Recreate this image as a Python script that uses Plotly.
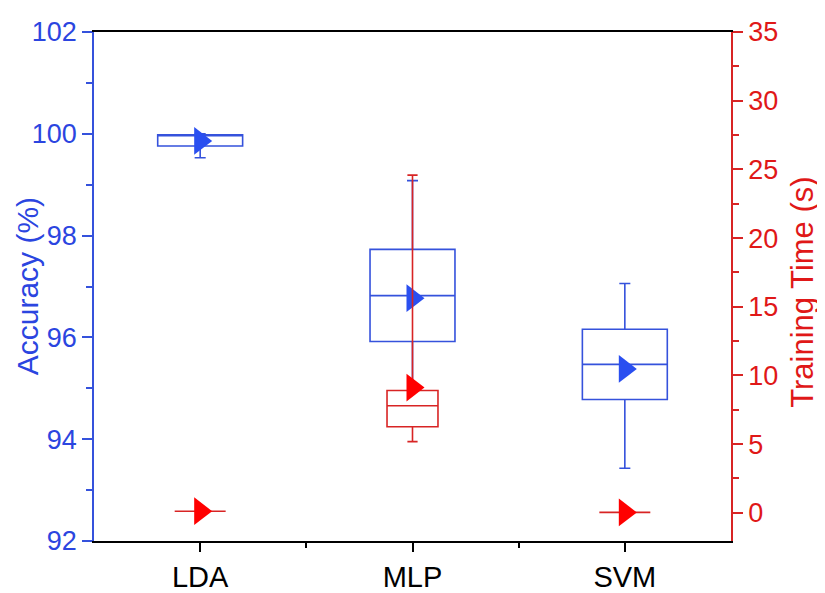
import plotly.graph_objects as go

categories = ["LDA", "MLP", "SVM"]
cat_pos = [1, 2, 3]

# Accuracy (%) box statistics
acc_lower = [99.53, 95.00, 93.43]
acc_q1 = [99.76, 95.92, 94.78]
acc_median = [99.98, 96.82, 95.47]
acc_q3 = [99.98, 97.73, 96.16]
acc_upper = [100.00, 99.08, 97.06]
acc_mean = [99.86, 96.77, 95.38]

# Training time (s) box statistics
tt_lower = [0.12, 5.18, 0.03]
tt_q1 = [0.12, 6.27, 0.03]
tt_median = [0.12, 7.80, 0.03]
tt_q3 = [0.12, 8.90, 0.03]
tt_upper = [0.12, 24.58, 0.03]
tt_mean = [0.12, 9.12, 0.03]

BLUE_LINE = "#3552DC"
BLUE_MARK = "#2A4FF0"
BLUE_TEXT = "#2B45E0"
RED_LINE = "#D82424"
RED_MARK = "#FF0000"
RED_TEXT = "#E01818"
FONT = "Liberation Sans, Arial, sans-serif"

fig = go.Figure()

fig.add_trace(go.Box(
    x=cat_pos, q1=acc_q1, median=acc_median, q3=acc_q3,
    lowerfence=acc_lower, upperfence=acc_upper,
    width=0.4, whiskerwidth=0.13, boxpoints=False,
    fillcolor="rgba(0,0,0,0)", line=dict(color=BLUE_LINE, width=1.6),
    yaxis="y", showlegend=False, hoverinfo="skip"))

fig.add_trace(go.Box(
    x=cat_pos, q1=tt_q1, median=tt_median, q3=tt_q3,
    lowerfence=tt_lower, upperfence=tt_upper,
    width=0.24, whiskerwidth=0.2, boxpoints=False,
    fillcolor="rgba(0,0,0,0)", line=dict(color=RED_LINE, width=1.6),
    yaxis="y2", showlegend=False, hoverinfo="skip"))

fig.add_trace(go.Scatter(
    x=cat_pos, y=acc_mean, mode="markers",
    marker=dict(symbol="triangle-right", size=24, color=BLUE_MARK, line=dict(width=0)),
    yaxis="y", showlegend=False, hoverinfo="skip"))

fig.add_trace(go.Scatter(
    x=cat_pos, y=tt_mean, mode="markers",
    marker=dict(symbol="triangle-right", size=24, color=RED_MARK, line=dict(width=0)),
    yaxis="y2", showlegend=False, hoverinfo="skip"))

fig.add_trace(go.Scatter(x=[None], y=[None], xaxis="x2", showlegend=False, hoverinfo="skip"))

fig.update_layout(
    width=817, height=585,
    margin=dict(l=86, r=94, t=24, b=52, autoexpand=False),
    paper_bgcolor="white", plot_bgcolor="white",
    boxmode="overlay",
    font=dict(family=FONT),
    xaxis=dict(
        range=[0.5, 3.5], tickmode="array", tickvals=cat_pos, ticktext=categories,
        ticks="outside", ticklen=9, tickwidth=1.5, tickcolor="black",
        minor=dict(tickmode="array", tickvals=[1.5, 2.5], ticks="outside", ticklen=5,
                   tickwidth=1.5, tickcolor="black"),
        showline=True, linecolor="black", linewidth=1.6, mirror=False,
        showgrid=False, zeroline=False, automargin=False,
        tickfont=dict(size=29, color="black", family=FONT)),
    xaxis2=dict(overlaying="x", side="top", range=[0.5, 3.5], showline=True,
                linecolor="black", linewidth=1.6, showticklabels=False, ticks="",
                showgrid=False, zeroline=False, automargin=False),
    yaxis=dict(
        range=[92, 102], tickmode="linear", tick0=92, dtick=2,
        ticks="outside", ticklen=10, tickwidth=1.5, tickcolor=BLUE_LINE,
        minor=dict(dtick=1, tick0=92, ticks="outside", ticklen=6, tickwidth=1.5, tickcolor=BLUE_LINE),
        showline=True, linecolor=BLUE_LINE, linewidth=1.6,
        showgrid=False, zeroline=False, automargin=False,
        tickfont=dict(size=27, color=BLUE_TEXT, family=FONT)),
    yaxis2=dict(
        overlaying="y", side="right",
        range=[-2.05, 35], tickmode="linear", tick0=0, dtick=5,
        ticks="outside", ticklen=10, tickwidth=1.5, tickcolor=RED_LINE,
        minor=dict(dtick=2.5, tick0=0, ticks="outside", ticklen=6, tickwidth=1.5, tickcolor=RED_LINE),
        showline=True, linecolor=RED_LINE, linewidth=1.6,
        showgrid=False, zeroline=False, automargin=False,
        tickfont=dict(size=27, color=RED_TEXT, family=FONT)),
    annotations=[
        dict(text="Accuracy (%)", xref="paper", yref="paper", x=-0.104, y=0.5,
             xanchor="center", yanchor="middle", textangle=-90, showarrow=False,
             borderpad=0, font=dict(size=30, color=BLUE_TEXT, family=FONT)),
        dict(text="Training Time (s)", xref="paper", yref="paper", x=1.111, y=0.489,
             xanchor="center", yanchor="middle", textangle=-90, showarrow=False,
             borderpad=0, font=dict(size=31, color=RED_TEXT, family=FONT)),
    ],
)

fig.write_html("out.html")
